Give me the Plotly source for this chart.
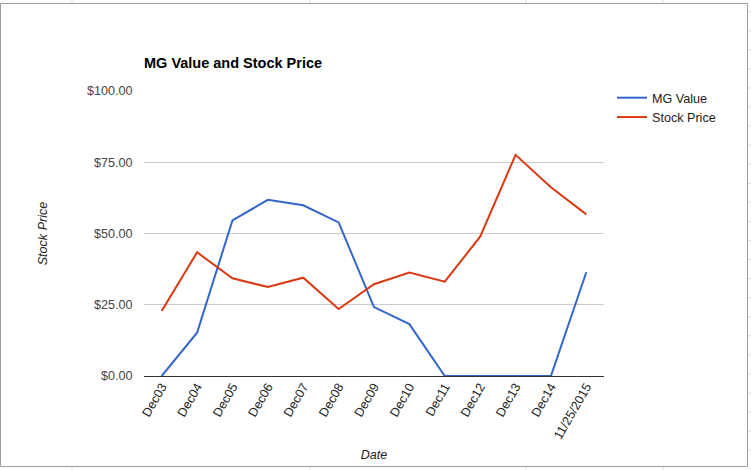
import plotly.graph_objects as go

categories = ["Dec03", "Dec04", "Dec05", "Dec06", "Dec07", "Dec08", "Dec09",
              "Dec10", "Dec11", "Dec12", "Dec13", "Dec14", "11/25/2015"]
mg_value = [0.0, 15.2, 54.6, 61.8, 59.9, 53.9, 24.2, 18.2, 0.0, 0.0, 0.0, 0.0, 36.4]
stock_price = [22.8, 43.4, 34.3, 31.2, 34.5, 23.5, 32.2, 36.3, 33.1, 48.9, 77.6, 66.2, 56.7]
y_ticks = [0, 25, 50, 75, 100]
y_tick_labels = ["$0.00", "$25.00", "$50.00", "$75.00", "$100.00"]

W, H = 751, 470
L, R, T, B = 144, 147, 91, 94
pw, ph = W - L - R, H - T - B

def px(x):
    return (x - L) / pw

def py(y):
    return (H - B - y) / ph

fig = go.Figure()
fig.add_trace(go.Scatter(x=categories, y=mg_value, mode="lines", name="MG Value",
                         line=dict(color="#3366cc", width=2)))
fig.add_trace(go.Scatter(x=categories, y=stock_price, mode="lines", name="Stock Price",
                         line=dict(color="#dc3912", width=2)))

shapes = []
# outer frame
shapes.append(dict(type="rect", xref="paper", yref="paper",
                   x0=px(0.5), x1=px(747.5), y0=py(3.5), y1=py(466.5),
                   line=dict(color="#9e9e9e", width=1), layer="below"))
# faint spreadsheet lines outside the frame
for xv in [72, 310, 526, 663]:
    shapes.append(dict(type="line", xref="paper", yref="paper",
                       x0=px(xv), x1=px(xv), y0=py(0), y1=py(3),
                       line=dict(color="#dadada", width=1)))
    shapes.append(dict(type="line", xref="paper", yref="paper",
                       x0=px(xv), x1=px(xv), y0=py(467), y1=py(470),
                       line=dict(color="#dadada", width=1)))
yv = 11.7
while yv < 466:
    shapes.append(dict(type="line", xref="paper", yref="paper",
                       x0=px(748.5), x1=px(751), y0=py(yv), y1=py(yv),
                       line=dict(color="#dadada", width=1)))
    yv += 19.07

fig.update_layout(
    width=W, height=H,
    margin=dict(l=L, r=R, t=T, b=B, pad=0, autoexpand=False),
    paper_bgcolor="white", plot_bgcolor="white",
    font=dict(family="Liberation Sans, Arial, sans-serif", size=12.6, color="#444444"),
    title=dict(text="<b>MG Value and Stock Price</b>", xref="container", x=144 / W,
               xanchor="left", yref="container", y=1 - 63 / H, yanchor="middle",
               font=dict(size=14.5, color="#000000")),
    showlegend=True,
    legend=dict(x=px(612), y=py(83), xanchor="left", yanchor="top",
                font=dict(size=12.6, color="#222222"), bgcolor="rgba(0,0,0,0)",
                tracegroupgap=0, itemwidth=30),
    xaxis=dict(type="category", range=[-0.5, 12.5], showgrid=False, automargin=False,
               tickangle=-60, ticks="", tickfont=dict(size=12.6, color="#222222"),
               showline=False, zeroline=False,
               title=dict(text="<i>Date</i>", font=dict(size=12.6, color="#222222"), standoff=9)),
    yaxis=dict(range=[0, 100], tickvals=y_ticks, ticktext=y_tick_labels, automargin=False,
               showgrid=True, gridcolor="#cccccc", gridwidth=1, layer="below traces",
               zeroline=True, zerolinecolor="#333333", zerolinewidth=1,
               ticks="outside", ticklen=8, tickcolor="rgba(0,0,0,0)",
               tickfont=dict(size=12.6, color="#444444"),
               title=dict(text="<i>Stock Price</i>", font=dict(size=12.6, color="#222222"), standoff=36)),
    shapes=shapes,
)
fig.write_html("out.html", config={"displayModeBar": False},
               post_script="document.body.style.margin='0px';")
